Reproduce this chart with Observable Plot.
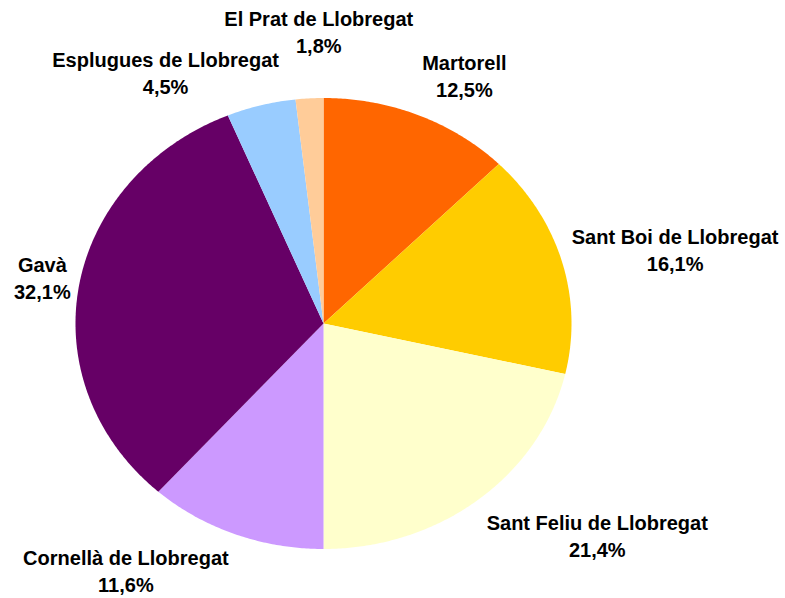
<!DOCTYPE html>
<html>
<head>
<meta charset="utf-8">
<script src="https://cdn.jsdelivr.net/npm/d3@7"></script>
<script src="https://cdn.jsdelivr.net/npm/@observablehq/plot@0.6"></script>
<style>
  html, body { margin: 0; padding: 0; background: #ffffff; }
  #chart svg { display: block; }
</style>
</head>
<body>
<div id="chart"></div>
<script>
// ---- Data (clockwise from 12 o'clock) ----
const names = ["Martorell", "Sant Boi de Llobregat", "Sant Feliu de Llobregat", "Cornellà de Llobregat", "Gavà", "Esplugues de Llobregat", "El Prat de Llobregat"];
const shares = [12.5, 16.1, 21.4, 11.6, 32.1, 4.5, 1.8];
const colors = ["#FF6600", "#FFCC00", "#FFFFCC", "#CC99FF", "#660066", "#99CCFF", "#FFCC99"];

// ---- Layout settings ----
const W = 785, H = 598;
const xRange = [75, 571], yRange = [548.5, 97.5];
const labelFactor = 1.05;
const fontSize = 20;
const fontFamily = "'Liberation Sans', Arial, sans-serif";
// pixel nudges for labels that the spreadsheet moved
const nudges = {
  "El Prat de Llobregat": [10, -34],
  "Esplugues de Llobregat": [21, 0],
  "Martorell": [-1, -8],
  "Sant Boi de Llobregat": [-2, -9],
  "Gavà": [4, -7],
  "Sant Feliu de Llobregat": [1, 2],
  "Cornellà de Llobregat": [-2, 1]
};

const total = d3.sum(shares);
let acc = 0;
const slices = names.map((name, i) => {
  const a0 = acc / total * 2 * Math.PI;
  acc += shares[i];
  const a1 = acc / total * 2 * Math.PI;
  return {name, value: shares[i], color: colors[i], a0, a1};
});

// polygon points for each slice (unit circle in data space; scales make it elliptical)
const pts = [];
for (const s of slices) {
  pts.push({name: s.name, x: 0, y: 0});
  const n = Math.max(2, Math.ceil((s.a1 - s.a0) / (Math.PI / 360)));
  for (let k = 0; k <= n; k++) {
    const a = s.a0 + (s.a1 - s.a0) * k / n;
    pts.push({name: s.name, x: Math.sin(a), y: Math.cos(a)});
  }
  pts.push({name: s.name, x: 0, y: 0});
}

const pxPerUnitX = (xRange[1] - xRange[0]) / 2;
const pxPerUnitY = (yRange[0] - yRange[1]) / 2;
const fmt = v => v.toFixed(1).replace(".", ",") + "%";

const ctx = document.createElement("canvas").getContext("2d");
ctx.font = `bold ${fontSize}px 'Liberation Sans', Arial, sans-serif`;
const textW = t => ctx.measureText(t).width;

const labels = slices.map(s => {
  const m = (s.a0 + s.a1) / 2;
  const sx = Math.sin(m), cy = Math.cos(m);
  const side = sx > 0.2 ? 1 : sx < -0.2 ? -1 : 0;
  const lines = [s.name, fmt(s.value)];
  const w = Math.max(...lines.map(textW));
  const lineAnchor = cy > 0.3 ? "bottom" : cy < -0.3 ? "top" : "middle";
  const [ndx, ndy] = nudges[s.name] || [0, 0];
  return {
    x: sx * labelFactor + (ndx + side * w / 2) / pxPerUnitX,
    y: cy * labelFactor - ndy / pxPerUnitY,
    label: lines.join("\n"),
    lineAnchor
  };
});

const labelMarks = ["top", "middle", "bottom"].map(la =>
  Plot.text(labels.filter(d => d.lineAnchor === la), {
    x: "x", y: "y", text: "label",
    textAnchor: "middle", lineAnchor: la,
    fontSize, fontWeight: "bold", lineHeight: 1.35,
    fill: "#000000"
  })
);

const chart = Plot.plot({
  width: W, height: H,
  margin: 0,
  style: {fontFamily, background: "#ffffff"},
  x: {domain: [-1, 1], range: xRange, axis: null},
  y: {domain: [-1, 1], range: yRange, axis: null},
  color: {domain: names, range: colors},
  marks: [
    Plot.line(pts, {x: "x", y: "y", z: "name", fill: "name", stroke: "none"}),
    ...labelMarks
  ]
});
document.getElementById("chart").appendChild(chart);
</script>
</body>
</html>
